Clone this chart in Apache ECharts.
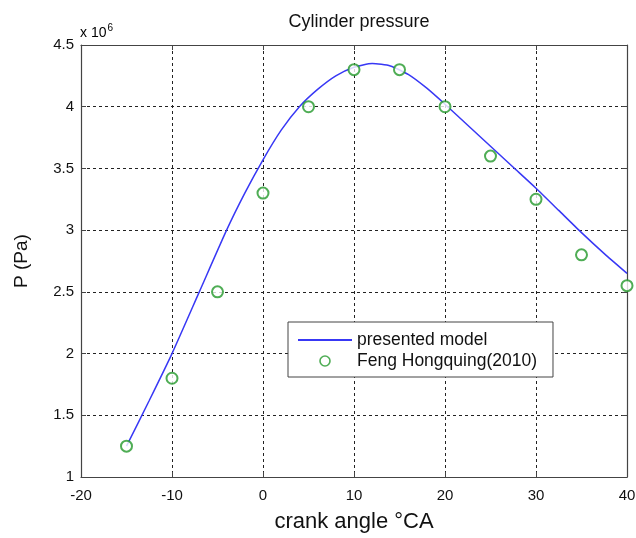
<!DOCTYPE html>
<html>
<head>
<meta charset="utf-8">
<script src="https://cdn.jsdelivr.net/npm/echarts@6/dist/echarts.min.js"></script>
<style>
  html, body { margin: 0; padding: 0; background: #fff; }
  #chart { width: 636px; height: 538px; }
</style>
</head>
<body>
<div id="chart"></div>
<script>
// Cylinder pressure: model curve vs. measured points (values in 10^6 Pa)

const modelAngle = [-15, -12.5, -10, -7, -4, -2, 0, 2, 4, 6, 8, 10, 12, 14, 16, 18, 20, 22.5, 25, 27.5, 30, 32.5, 35, 37.5, 40]
const modelP = [1.25, 1.62, 2.0, 2.5, 3.0, 3.30, 3.57, 3.81, 4.0, 4.14, 4.25, 4.32, 4.35, 4.33, 4.26, 4.15, 4.02, 3.85, 3.68, 3.51, 3.34, 3.16, 2.98, 2.81, 2.65]

const refAngle = [-15, -10, -5, 0, 5, 10, 15, 20, 25, 30, 35, 40]
const refP = [1.25, 1.8, 2.5, 3.3, 4.0, 4.3, 4.3, 4.0, 3.6, 3.25, 2.8, 2.55]

const seriesNames = ['presented model', 'Feng Hongquing(2010)']

const font = 'Liberation Sans, Arial, sans-serif'
const blue = '#3838f5'
const green = '#23992b'
const gridDash = { color: '#222', width: 1, type: [3, 3] }
const axisLine = { show: true, onZero: false, lineStyle: { color: '#444', width: 1.2 } }
const tick = { show: true, inside: true, length: 5, lineStyle: { color: '#444' } }

// legend icons sized inside the 54x14 item box (the moveTo corners hold the box)
const lineIcon = 'path://M0 0M54 14M0 6.1H54V7.9H0Z'
const ringIcon = 'path://M0 0M54 14M32.8 7A5.8 5.8 0 1 0 21.2 7A5.8 5.8 0 1 0 32.8 7ZM31.2 7A4.2 4.2 0 1 1 22.8 7A4.2 4.2 0 1 1 31.2 7Z'

const chart = echarts.init(document.getElementById('chart'))

const xBase = { type: 'value', min: -20, max: 40, interval: 10 }
const yBase = { type: 'value', min: 1, max: 4.5, interval: 0.5 }

chart.setOption({
  backgroundColor: '#fff',
  animation: false,
  title: {
    text: 'Cylinder pressure',
    left: 354,
    textAlign: 'center',
    top: 8,
    textStyle: { fontFamily: font, fontSize: 18, fontWeight: 'normal', color: '#111' },
  },
  grid: { left: 81, right: 9, top: 45, bottom: 61, outerBoundsMode: 'none' },
  legend: {
    data: [
      { name: seriesNames[0], icon: lineIcon, itemStyle: { color: blue, borderWidth: 0 } },
      { name: seriesNames[1], icon: ringIcon, itemStyle: { color: green, borderWidth: 0 } },
    ],
    orient: 'vertical',
    left: 288,
    top: 322,
    padding: [9, 16, 7, 10],
    itemWidth: 54,
    itemHeight: 14,
    itemGap: 3,
    backgroundColor: '#fff',
    borderColor: '#444',
    borderWidth: 1,
    borderRadius: 0,
    textStyle: { fontFamily: font, fontSize: 17.5, color: '#111' },
  },
  xAxis: [
    {
      ...xBase,
      name: 'crank angle °CA',
      nameLocation: 'middle',
      nameGap: 34,
      nameTextStyle: { fontFamily: font, fontSize: 22, color: '#111' },
      axisLine,
      axisTick: tick,
      axisLabel: { margin: 11, fontFamily: font, fontSize: 15, color: '#111' },
      splitLine: { show: true, lineStyle: gridDash },
    },
    {
      ...xBase,
      position: 'top',
      axisLine,
      axisTick: tick,
      axisLabel: { show: false },
      splitLine: { show: false },
    },
  ],
  yAxis: [
    {
      ...yBase,
      name: 'P (Pa)',
      nameLocation: 'middle',
      nameGap: 50,
      nameTextStyle: { fontFamily: font, fontSize: 19, color: '#111' },
      axisLine,
      axisTick: tick,
      axisLabel: { margin: 7, fontFamily: font, fontSize: 15, color: '#111' },
      splitLine: { show: true, lineStyle: gridDash },
    },
    {
      ...yBase,
      position: 'right',
      axisLine,
      axisTick: tick,
      axisLabel: { show: false },
      splitLine: { show: false },
    },
  ],
  graphic: [
    {
      type: 'text',
      left: 80,
      top: 23,
      style: {
        text: '{b|x 10}{s|6}',
        rich: {
          b: { fontFamily: font, fontSize: 14, color: '#111', verticalAlign: 'bottom' },
          s: { fontFamily: font, fontSize: 10, color: '#111', verticalAlign: 'top', padding: [0, 0, 7, 1] },
        },
      },
    },
  ],
  series: [
    {
      name: seriesNames[0],
      type: 'line',
      data: modelAngle.map((a, i) => [a, modelP[i]]),
      smooth: 0.2,
      symbol: 'none',
      lineStyle: { color: blue, width: 1.5 },
      itemStyle: { color: blue },
      z: 3,
    },
    {
      name: seriesNames[1],
      type: 'scatter',
      data: refAngle.map((a, i) => [a, refP[i]]),
      symbol: 'emptyCircle',
      symbolSize: 11,
      itemStyle: { color: green, borderWidth: 1.6 },
      z: 4,
    },
  ],
})
</script>
</body>
</html>
